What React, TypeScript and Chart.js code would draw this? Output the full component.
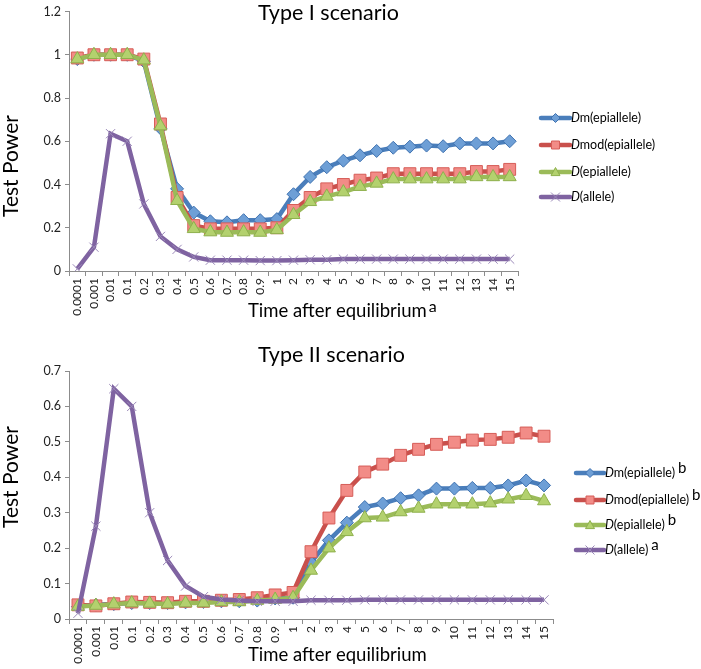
import React, { useEffect, useRef } from "react";
import { Chart, registerables } from "chart.js";
Chart.register(...registerables);

const FONT = "Lato, 'Open Sans', sans-serif";

const categories = ["0.0001","0.001","0.01","0.1","0.2","0.3","0.4","0.5","0.6","0.7","0.8","0.9","1","2","3","4","5","6","7","8","9","10","11","12","13","14","15"];

// Type I scenario
const t1Dm = [0.98,1.0,1.0,1.0,0.97,0.66,0.38,0.27,0.23,0.225,0.235,0.235,0.24,0.355,0.435,0.48,0.51,0.535,0.555,0.57,0.575,0.58,0.577,0.59,0.59,0.59,0.6];
const t1Dmod = [0.985,1.0,1.0,1.0,0.98,0.68,0.34,0.21,0.195,0.195,0.195,0.195,0.2,0.28,0.34,0.38,0.4,0.42,0.43,0.45,0.45,0.45,0.45,0.45,0.46,0.46,0.47];
const t1D = [0.98,1.0,1.0,1.0,0.975,0.67,0.325,0.195,0.18,0.178,0.18,0.178,0.19,0.26,0.32,0.345,0.365,0.39,0.405,0.425,0.425,0.425,0.425,0.425,0.435,0.435,0.435];
const t1Allele = [0.01,0.11,0.635,0.6,0.31,0.16,0.1,0.065,0.05,0.05,0.05,0.048,0.048,0.05,0.052,0.052,0.055,0.055,0.055,0.055,0.055,0.055,0.055,0.055,0.055,0.055,0.055];

// Type II scenario
const t2Dm = [0.035,0.04,0.042,0.045,0.045,0.045,0.047,0.048,0.05,0.05,0.052,0.058,0.06,0.16,0.222,0.272,0.316,0.326,0.341,0.349,0.368,0.368,0.37,0.37,0.377,0.391,0.377];
const t2Dmod = [0.04,0.037,0.043,0.048,0.047,0.046,0.05,0.05,0.053,0.055,0.06,0.068,0.075,0.19,0.285,0.363,0.415,0.437,0.462,0.479,0.493,0.499,0.505,0.507,0.513,0.525,0.516];
const t2D = [0.035,0.038,0.042,0.045,0.044,0.042,0.045,0.045,0.048,0.048,0.052,0.055,0.06,0.137,0.2,0.246,0.285,0.287,0.302,0.312,0.324,0.324,0.324,0.327,0.338,0.348,0.333];
const t2Allele = [0.016,0.262,0.65,0.6,0.3,0.165,0.093,0.063,0.055,0.052,0.05,0.05,0.05,0.053,0.053,0.053,0.054,0.054,0.054,0.054,0.054,0.054,0.054,0.054,0.054,0.054,0.054];

const seriesNames = ["m(epiallele)", "mod(epiallele)", "(epiallele)", "(allele)"];
const type2Sups = ["b", "b", "b", "a"];

const STY = [
  { line: "#4A7EBB", fill: "#6E9FD6", border: "#3F72B0", style: "rectRot", radius: 6.5, bw: 1 },
  { line: "#C9504C", fill: "#F28C87", border: "#D65D58", style: "rect", radius: 8.4, bw: 1 },
  { line: "#9BBB59", fill: "#B3D16E", border: "#8EB04C", style: "triangle", radius: 7.5, bw: 1 },
  { line: "#7F63A1", fill: "rgba(0,0,0,0)", border: "#9A88B8", style: "crossRot", radius: 6.5, bw: 1 },
];

function drawMarker(ctx: CanvasRenderingContext2D, style: string, x: number, y: number, r: number, s: any) {
  ctx.save();
  ctx.fillStyle = s.fill;
  ctx.strokeStyle = s.border;
  ctx.lineWidth = 1;
  ctx.beginPath();
  if (style === "rectRot") {
    ctx.moveTo(x, y - r); ctx.lineTo(x + r, y); ctx.lineTo(x, y + r); ctx.lineTo(x - r, y); ctx.closePath();
    ctx.fill(); ctx.stroke();
  } else if (style === "rect") {
    ctx.rect(x - r, y - r, 2 * r, 2 * r); ctx.fill(); ctx.stroke();
  } else if (style === "triangle") {
    ctx.moveTo(x, y - r); ctx.lineTo(x + r, y + r * 0.8); ctx.lineTo(x - r, y + r * 0.8); ctx.closePath();
    ctx.fill(); ctx.stroke();
  } else {
    ctx.moveTo(x - r, y - r); ctx.lineTo(x + r, y + r); ctx.moveTo(x + r, y - r); ctx.lineTo(x - r, y + r);
    ctx.stroke();
  }
  ctx.restore();
}

function makeOverlay(o: any) {
  return {
    id: "overlay",
    afterDraw(chart: any) {
      const ctx: CanvasRenderingContext2D = chart.ctx;
      ctx.save();
      ctx.fillStyle = "#000";
      ctx.textBaseline = "middle";
      ctx.textAlign = "left";
      ctx.font = `21.5px ${FONT}`;
      ctx.fillText(o.title, o.titleX, o.titleY);
      // y title
      ctx.save();
      ctx.translate(o.yTitleX, o.yTitleY);
      ctx.rotate(-Math.PI / 2);
      ctx.textAlign = "center";
      ctx.font = `21px ${FONT}`;
      ctx.fillText("Test Power", 0, 0);
      ctx.restore();
      // x title
      ctx.font = `18.5px ${FONT}`;
      const xt = "Time after equilibrium";
      const w = ctx.measureText(xt).width;
      ctx.fillText(xt, o.xTitleX, o.xTitleY);
      if (o.xSup) {
        ctx.font = `16px ${FONT}`;
        ctx.fillText(o.xSup, o.xTitleX + w + 2, o.xTitleY - 4);
      }
      // legend
      for (let i = 0; i < 4; i++) {
        const s = STY[i];
        const y = o.legY[i];
        ctx.save();
        ctx.strokeStyle = s.line;
        ctx.lineWidth = 4.5;
        ctx.lineCap = "round";
        ctx.beginPath();
        ctx.moveTo(o.legX, y);
        ctx.lineTo(o.legX + o.legLen, y);
        ctx.stroke();
        ctx.restore();
        const mx = o.legX + o.legLen / 2;
        const mr = s.style === "rect" ? 4 : 4.5;
        drawMarker(ctx, s.style, mx, y, mr, s);
        let tx = o.legX + o.legLen + 1;
        ctx.fillStyle = "#000";
        ctx.font = `italic 12.5px ${FONT}`;
        ctx.fillText("D", tx, y);
        tx += ctx.measureText("D").width;
        ctx.font = `12.5px ${FONT}`;
        ctx.fillText(seriesNames[i], tx, y);
        tx += ctx.measureText(seriesNames[i]).width;
        if (o.sups) {
          ctx.font = `15px ${FONT}`;
          ctx.fillText(o.sups[i], tx + 3, y - 5);
        }
      }
      ctx.restore();
    },
  };
}

function makeConfig(data: number[][], ymax: number, step: number, pad: any, xh: number, overlay: any): any {
  const datasets = data.map((d, i) => {
    const s = STY[i];
    return {
      label: "D" + seriesNames[i],
      data: d,
      borderColor: s.line,
      backgroundColor: s.fill,
      borderWidth: 4.5,
      pointStyle: s.style,
      pointRadius: s.radius,
      pointBackgroundColor: s.fill,
      pointBorderColor: s.border,
      pointBorderWidth: s.bw,
      tension: 0,
      order: 4 - i,
    };
  });
  return {
    type: "line",
    data: { labels: categories, datasets },
    options: {
      responsive: false,
      animation: false,
      events: [],
      layout: { padding: pad },
      plugins: { legend: { display: false }, title: { display: false }, tooltip: { enabled: false } },
      scales: {
        x: {
          offset: true,
          grid: { display: true, drawOnChartArea: false, drawTicks: true, tickLength: 5, color: "#8C8C8C", offset: true },
          border: { display: true, color: "#8C8C8C", width: 1 },
          ticks: { minRotation: 90, maxRotation: 90, autoSkip: false, padding: 2, color: "#222", font: { size: 12, family: FONT } },
          afterFit: (sc: any) => { sc.height = xh; },
        },
        y: {
          min: 0,
          max: ymax,
          grid: { display: true, drawOnChartArea: false, drawTicks: true, tickLength: 4, color: "#8C8C8C" },
          border: { display: true, color: "#8C8C8C", width: 1 },
          ticks: {
            stepSize: step,
            padding: 4,
            color: "#222",
            font: { size: 12.5, family: FONT },
            callback: (v: number) => String(Number(v.toFixed(2))),
          },
          afterFit: (sc: any) => { sc.width = 69; },
        },
      },
    },
    plugins: [overlay],
  };
}

function ChartBox({ config, width, height, top }: any) {
  const ref = useRef<HTMLCanvasElement>(null);
  useEffect(() => {
    const c = new Chart(ref.current as HTMLCanvasElement, config);
    return () => c.destroy();
  }, []);
  return (
    <canvas ref={ref} width={width} height={height}
      style={{ position: "absolute", left: 0, top, width, height }} />
  );
}

export default function App() {
  const top = makeConfig([t1Dm, t1Dmod, t1D, t1Allele], 1.2, 0.2, { left: 0, right: 183, top: 7, bottom: 0 }, 59,
    makeOverlay({ title: "Type I scenario", titleX: 258, titleY: 13, yTitleX: 11, yTitleY: 166, xTitleX: 248, xTitleY: 311, xSup: "a",
      legX: 541, legLen: 29, legY: [118, 145, 172, 197] }));
  const bottom = makeConfig([t2Dm, t2Dmod, t2D, t2Allele], 0.7, 0.1, { left: 0, right: 148, top: 41, bottom: 0 }, 50,
    makeOverlay({ title: "Type II scenario", titleX: 258, titleY: 25, yTitleX: 11, yTitleY: 147, xTitleX: 248, xTitleY: 325,
      legX: 576, legLen: 28, legY: [143, 170, 195, 220], sups: type2Sups }));
  return (
    <div style={{ position: "absolute", left: 0, top: 0, width: 701, height: 669, background: "#fff" }}>
      <ChartBox config={top} width={701} height={330} top={0} />
      <ChartBox config={bottom} width={701} height={339} top={330} />
    </div>
  );
}
